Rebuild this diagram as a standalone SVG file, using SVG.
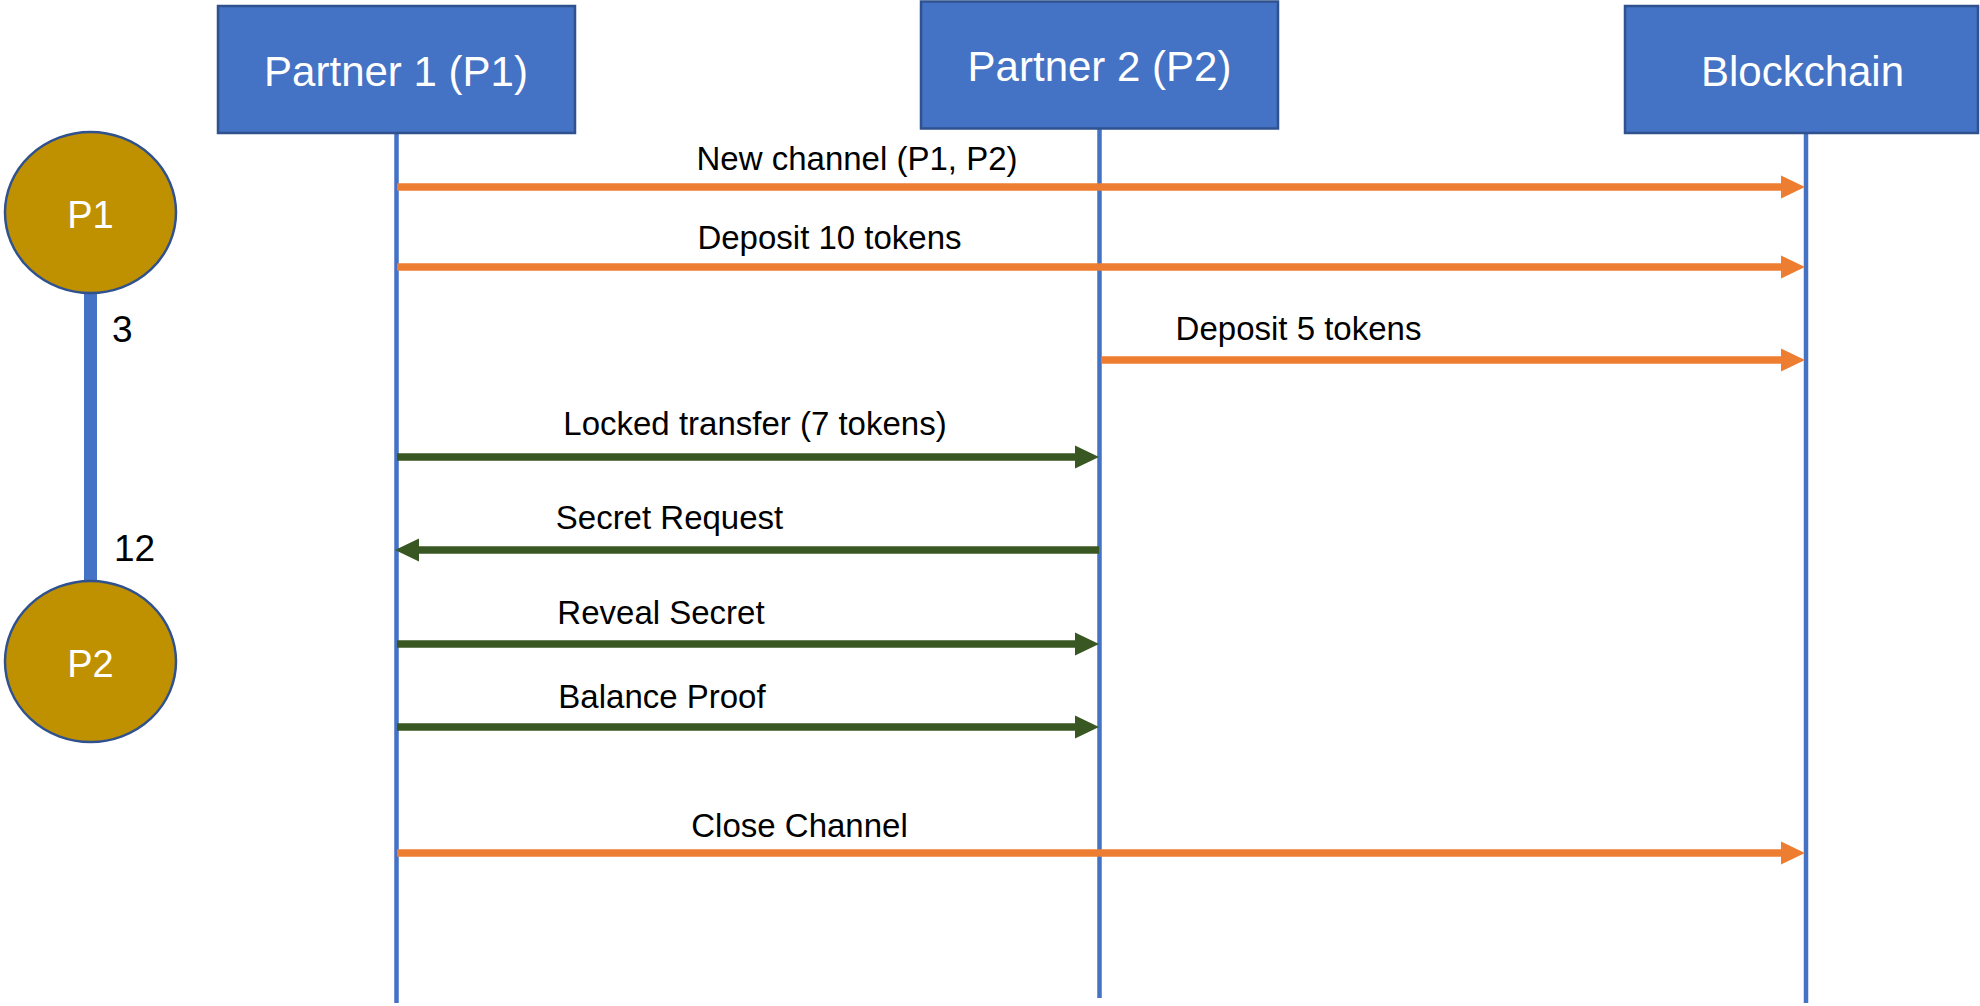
<svg xmlns="http://www.w3.org/2000/svg" width="1980" height="1006" viewBox="0 0 1980 1006">
  <style>
    .box { fill: #4472C4; stroke: #2F528F; stroke-width: 2.5; }
    .boxtxt { font-family: "Liberation Sans", Arial, sans-serif; font-size: 42px; fill: #FFFFFF; text-anchor: middle; }
    .life { stroke: #4472C4; stroke-width: 4.5; fill: none; }
    .circ { fill: #BF9000; stroke: #2F528F; stroke-width: 2.5; }
    .circtxt { font-family: "Liberation Sans", Arial, sans-serif; font-size: 38px; fill: #FFFFFF; text-anchor: middle; }
    .num { font-family: "Liberation Sans", Arial, sans-serif; font-size: 37px; fill: #000000; }
    .lbl { font-family: "Liberation Sans", Arial, sans-serif; font-size: 33px; fill: #000000; text-anchor: middle; }
    .orange { stroke: #ED7D31; stroke-width: 7.5; fill: none; }
    .green { stroke: #385723; stroke-width: 7.5; fill: none; }
  </style>
  <defs>
    <marker id="arrO" markerUnits="userSpaceOnUse" markerWidth="25" markerHeight="24" refX="1" refY="12" orient="auto" viewBox="0 0 25 24">
      <path d="M0,0.5 L24,12 L0,23.5 Z" fill="#ED7D31"/>
    </marker>
    <marker id="arrG" markerUnits="userSpaceOnUse" markerWidth="25" markerHeight="24" refX="1" refY="12" orient="auto" viewBox="0 0 25 24">
      <path d="M0,0.5 L24,12 L0,23.5 Z" fill="#385723"/>
    </marker>
  </defs>

  <g id="lifelines">
    <line class="life" x1="396.5" y1="133" x2="396.5" y2="1003"/>
    <line class="life" x1="1099.5" y1="129" x2="1099.5" y2="998"/>
    <line class="life" x1="1806" y1="133" x2="1806" y2="1003"/>
  </g>

  <g id="partner1">
    <rect class="box" x="218" y="6" width="357" height="127"/>
    <text class="boxtxt" x="396" y="86">Partner 1 (P1)</text>
  </g>
  <g id="partner2">
    <rect class="box" x="921" y="1.5" width="357" height="127"/>
    <text class="boxtxt" x="1099.5" y="81">Partner 2 (P2)</text>
  </g>
  <g id="blockchain">
    <rect class="box" x="1625" y="6" width="353" height="127"/>
    <text class="boxtxt" x="1802.5" y="86">Blockchain</text>
  </g>

  <g id="channel-bar">
    <rect x="84" y="290" width="13" height="294" fill="#4472C4"/>
    <text class="num" x="112" y="342">3</text>
    <text class="num" x="114" y="561">12</text>
  </g>
  <g id="p1-circle">
    <ellipse class="circ" cx="90.5" cy="212.5" rx="85.5" ry="80.5"/>
    <text class="circtxt" x="90.5" y="228">P1</text>
  </g>
  <g id="p2-circle">
    <ellipse class="circ" cx="90.5" cy="661.5" rx="85.5" ry="80.5"/>
    <text class="circtxt" x="90.5" y="677">P2</text>
  </g>

  <g id="connectors">
    <line class="orange" x1="397" y1="187" x2="1782" y2="187" marker-end="url(#arrO)"/>
    <line class="orange" x1="397" y1="267" x2="1782" y2="267" marker-end="url(#arrO)"/>
    <line class="orange" x1="1101" y1="360" x2="1782" y2="360" marker-end="url(#arrO)"/>
    <line class="green" x1="397" y1="457" x2="1076" y2="457" marker-end="url(#arrG)"/>
    <line class="green" x1="1099" y1="550" x2="418" y2="550" marker-end="url(#arrG)"/>
    <line class="green" x1="397" y1="644" x2="1076" y2="644" marker-end="url(#arrG)"/>
    <line class="green" x1="397" y1="727" x2="1076" y2="727" marker-end="url(#arrG)"/>
    <line class="orange" x1="397" y1="853" x2="1782" y2="853" marker-end="url(#arrO)"/>
  </g>

  <g id="labels">
    <text class="lbl" x="857" y="170">New channel (P1, P2)</text>
    <text class="lbl" x="829.5" y="249">Deposit 10 tokens</text>
    <text class="lbl" x="1298.5" y="340">Deposit 5 tokens</text>
    <text class="lbl" x="755" y="435">Locked transfer (7 tokens)</text>
    <text class="lbl" x="669.5" y="529">Secret Request</text>
    <text class="lbl" x="661" y="624">Reveal Secret</text>
    <text class="lbl" x="662" y="708">Balance Proof</text>
    <text class="lbl" x="799.5" y="837">Close Channel</text>
  </g>
</svg>
